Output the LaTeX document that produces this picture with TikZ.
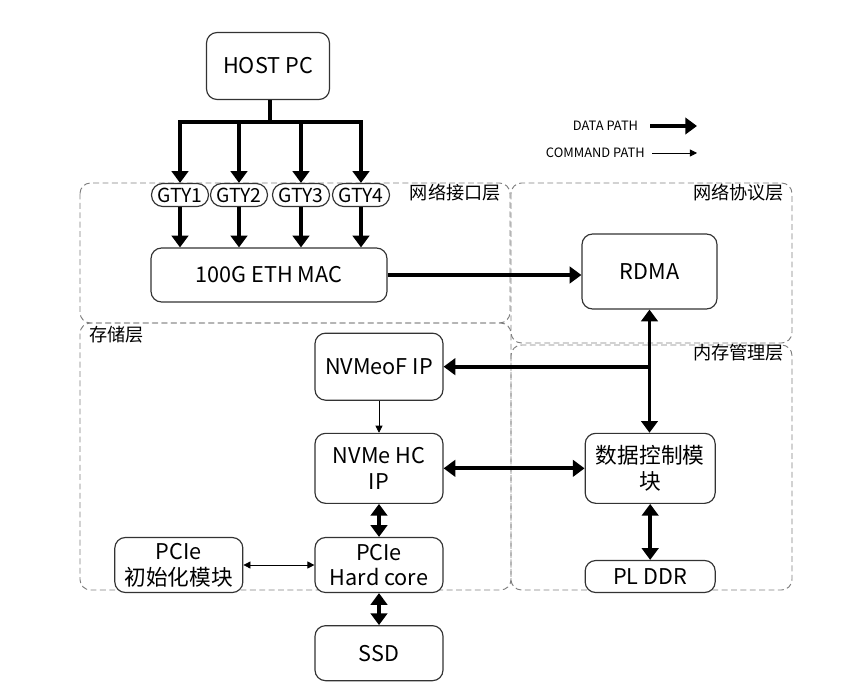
\documentclass[tikz,border=0pt]{standalone}
\usepackage{fontspec}
\setmainfont{Noto Sans CJK SC}
\usepackage{xcolor}
\definecolor{boxline}{HTML}{333333}
\definecolor{layerline}{HTML}{7F7F7F}
\usepackage{tikz}
\usetikzlibrary{arrows.meta, positioning, calc}
\tikzstyle{datapath} = [
  -{Triangle[length=10pt, width=14pt]}, line width=3.2pt, color=black
]
\tikzstyle{cmdpath} = [
  -{Triangle[length=6pt, width=6pt]}, line width=0.7pt, color=black
]

\begin{document}
\begin{tikzpicture}[
  every node/.style={font=\fontsize{18.5}{22}\selectfont},
  box/.style={rectangle, rounded corners=9pt, draw=boxline, line width=1pt,
              fill=white, align=center, inner sep=0pt},
  gty/.style={rectangle, rounded corners=0.34cm, draw=boxline, line width=1pt,
              fill=white, minimum width=1.71cm, minimum height=0.69cm,
              inner sep=0pt, font=\fontsize{16.5}{19}\selectfont},
  layer/.style={draw=layerline, dash pattern=on 5pt off 3pt, line width=0.8pt,
                rounded corners=9pt},
  layername/.style={font=\fontsize{15.5}{18}\selectfont, inner sep=2pt},
  legend/.style={font=\fontsize{11}{13}\selectfont, inner sep=0pt},
]
  \useasboundingbox (0,0) rectangle (25.98,-20.85);

  % layers
  \draw[layer] (2.4,-5.49)   rectangle (15.3,-9.69);
  \draw[layer] (15.33,-5.49) rectangle (23.76,-10.29);
  \draw[layer] (15.33,-10.35) rectangle (23.76,-17.7);
  \draw[layer] (2.4,-9.69)   rectangle (15.33,-17.7);
  \node[layername, anchor=north east] (lnetif) at (15.1,-5.45)  {网络接口层};
  \node[layername, anchor=north east] (lproto) at (23.6,-5.45)  {网络协议层};
  \node[layername, anchor=north east] (lmem)   at (23.6,-10.25) {内存管理层};
  \node[layername, anchor=north west] (lstore) at (2.6,-9.7)    {存储层};

  % legend
  \node[legend, anchor=east] (ldata) at (19.15,-3.78) {DATA PATH};
  \node[legend, anchor=east] (lcmd)  at (19.35,-4.59) {COMMAND PATH};
  \coordinate (ldataend) at (20.91,-3.78);
  \coordinate (lcmdend)  at (20.91,-4.59);
  \draw[datapath] ([xshift=10pt]ldata.east) -- (ldataend);
  \draw[cmdpath]  ([xshift=6pt]lcmd.east)   -- (lcmdend);

  % blocks
  \node[box, minimum width=3.69cm, minimum height=2.01cm]
    (host)   at (8.04,-1.98)   {HOST PC};
  \node[gty] (gty1) at (5.4,-5.85)   {GTY1};
  \node[gty] (gty2) at (7.17,-5.85)  {GTY2};
  \node[gty] (gty3) at (9.03,-5.85)  {GTY3};
  \node[gty] (gty4) at (10.83,-5.85) {GTY4};
  \node[box, minimum width=7.08cm, minimum height=1.62cm]
    (mac)    at (8.07,-8.25)   {100G ETH MAC};
  \node[box, minimum width=4.05cm, minimum height=2.25cm]
    (rdma)   at (19.485,-8.145) {RDMA};
  \node[box, minimum width=3.84cm, minimum height=2.01cm]
    (nvmeof) at (11.37,-11.0)  {NVMeoF IP};
  \node[box, minimum width=3.84cm, minimum height=2.1cm, below=0.96cm of nvmeof]
    (nvmehc) {NVMe HC\\IP};
  \node[box, minimum width=3.84cm, minimum height=1.65cm, below=0.99cm of nvmehc]
    (pcie)   {PCIe\\Hard core};
  \node[box, minimum width=3.84cm, minimum height=1.65cm, below=0.96cm of pcie]
    (ssd)    {SSD};
  \node[box, minimum width=3.84cm, minimum height=1.65cm, left=2.13cm of pcie]
    (init)   {PCIe\\初始化模块};
  \node[box, minimum width=3.9cm, minimum height=2.1cm, right=4.23cm of nvmehc]
    (ctrl)   {数据控制模\\块};
  \node[box, minimum width=3.9cm, minimum height=0.96cm, below=1.68cm of ctrl]
    (plddr)  {PL DDR};

  % host -> GTY bus
  \coordinate (bus) at ($(host.south)+(0.06,-0.66)$);
  \draw[line width=3.2pt] ($(host.south)+(0.06,0)$) -- (bus);
  \draw[datapath] (bus) -| (gty1);
  \draw[datapath] (bus) -| (gty2);
  \draw[datapath] (bus) -| (gty3);
  \draw[datapath] (bus) -| (gty4);

  % GTY -> MAC
  \draw[datapath] (gty1) -- (gty1 |- mac.north);
  \draw[datapath] (gty2) -- (gty2 |- mac.north);
  \draw[datapath] (gty3) -- (gty3 |- mac.north);
  \draw[datapath] (gty4) -- (gty4 |- mac.north);

  % MAC -> RDMA
  \draw[datapath] (mac.east) -- (mac.east -| rdma.west);

  % RDMA <-> control, branch to NVMeoF
  \coordinate (junc) at (rdma.south |- nvmeof.east);
  \draw[datapath, {Triangle[length=10pt, width=14pt]}-{Triangle[length=10pt, width=14pt]}]
    (rdma.south) -- (rdma.south |- ctrl.north);
  \draw[datapath] (junc) -- (nvmeof.east);

  % storage path
  \draw[cmdpath] (nvmeof) -- (nvmehc);
  \draw[datapath, {Triangle[length=10pt, width=14pt]}-{Triangle[length=10pt, width=14pt]}]
    (nvmehc) -- (ctrl);
  \draw[datapath, {Triangle[length=10pt, width=14pt]}-{Triangle[length=10pt, width=14pt]}]
    (nvmehc) -- (pcie);
  \draw[cmdpath, {Triangle[length=6pt, width=6pt]}-{Triangle[length=6pt, width=6pt]}]
    (init) -- (pcie);
  \draw[datapath, {Triangle[length=10pt, width=14pt]}-{Triangle[length=10pt, width=14pt]}]
    (pcie) -- (ssd);
  \draw[datapath, {Triangle[length=10pt, width=14pt]}-{Triangle[length=10pt, width=14pt]}]
    (ctrl) -- (plddr);
\end{tikzpicture}
\end{document}
